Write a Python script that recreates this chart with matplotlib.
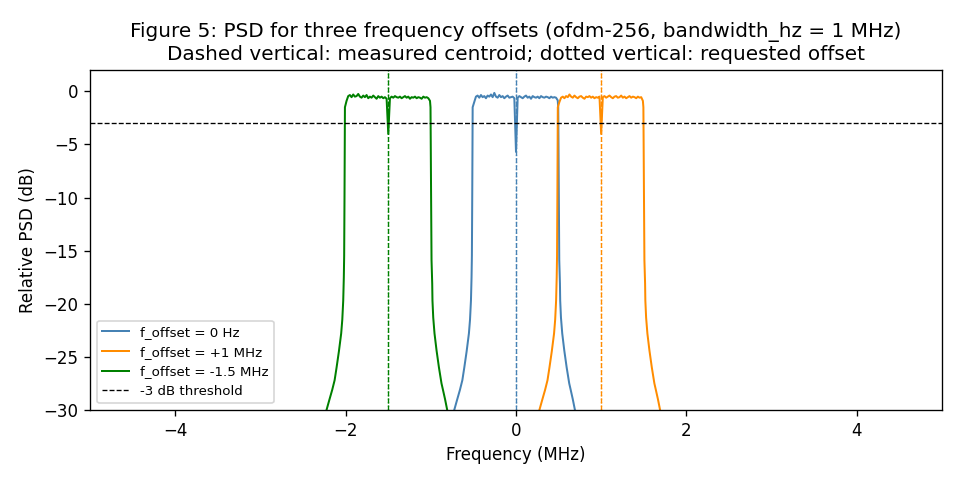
import numpy as np
import matplotlib
matplotlib.use("Agg")
import matplotlib.pyplot as plt

# Centre frequencies (MHz): requested offset and measured centroid
labels = ["f_offset = 0 Hz", "f_offset = +1 MHz", "f_offset = -1.5 MHz"]
colors = ["steelblue", "darkorange", "green"]
requested_mhz = [0.0, 1.0, -1.5]
centroid_mhz = [0.0, 1.0, -1.5]

# Band edge shape relative to centre (MHz, dB)
left_edge_off = [-0.745, -0.725, -0.69, -0.658, -0.63, -0.607, -0.58, -0.553, -0.54,
                 -0.529, -0.522, -0.518, -0.514, -0.511, -0.509]
left_edge_db = [-31.0, -30.0, -29.0, -28.1, -27.2, -26.0, -24.5, -22.8, -21.5,
                -19.7, -17.5, -15.5, -10.0, -5.0, -1.5]
right_edge_off = [0.496, 0.499, 0.503, 0.508, 0.516, 0.519, 0.528, 0.543, 0.567,
                  0.595, 0.625, 0.642, 0.667, 0.692, 0.705]
right_edge_db = [-1.5, -5.0, -10.0, -15.9, -18.1, -19.7, -21.3, -22.8, -24.4,
                 -26.0, -27.5, -28.1, -29.0, -30.0, -30.7]

# Flat-top PSD in the pass band (dB), centre sample is the DC notch
blue_top = [-1.0, -0.5, -0.4, -0.6, -0.35, -0.55, -0.45, -0.65, -0.4, -0.5, -0.3, -0.55, -0.15,
            -0.5, -0.6, -0.35, -0.55, -0.45, -0.65, -0.5, -0.4, -0.6, -0.55, -0.5, -0.65,
            -5.7,
            -0.6, -0.45, -0.55, -0.65, -0.5, -0.4, -0.6, -0.5, -0.7, -0.45, -0.55, -0.6, -0.5,
            -0.65, -0.45, -0.55, -0.6, -0.5, -0.55, -0.65, -0.5, -0.6, -0.55, -0.6, -0.85]
orange_top = [-1.0, -0.6, -0.5, -0.65, -0.45, -0.55, -0.3, -0.5, -0.6, -0.4, -0.55, -0.65, -0.5,
              -0.45, -0.6, -0.7, -0.5, -0.55, -0.45, -0.6, -0.5, -0.65, -0.55, -0.6, -0.5,
              -4.0,
              -0.55, -0.45, -0.6, -0.5, -0.4, -0.55, -0.65, -0.5, -0.45, -0.6, -0.55, -0.4, -0.6,
              -0.5, -0.65, -0.55, -0.45, -0.6, -0.5, -0.55, -0.65, -0.5, -0.6, -0.55, -0.9]
green_top = [-0.9, -0.45, -0.35, -0.55, -0.3, -0.5, -0.45, -0.25, -0.5, -0.6, -0.4, -0.55, -0.35,
             -0.65, -0.5, -0.6, -0.4, -0.55, -0.7, -0.45, -0.6, -0.5, -0.65, -0.55, -0.7,
             -4.0,
             -0.65, -0.5, -0.6, -0.45, -0.55, -0.6, -0.5, -0.65, -0.55, -0.45, -0.6, -0.5, -0.7,
             -0.55, -0.6, -0.5, -0.65, -0.55, -0.6, -0.7, -0.5, -0.6, -0.55, -0.65, -0.9]
tops = [blue_top, orange_top, green_top]

threshold_db = -3

fig, ax = plt.subplots(figsize=(8, 4), dpi=120)
fig.subplots_adjust(left=0.094, right=0.981, bottom=0.146, top=0.854)

for top, fc, col, lab in zip(tops, requested_mhz, colors, labels):
    top_off = np.linspace(-0.49, 0.49, len(top))
    f = fc + np.concatenate([left_edge_off, top_off, right_edge_off])
    p = np.concatenate([left_edge_db, top, right_edge_db])
    ax.plot(f, p, color=col, lw=1.2, label=lab)

for fc, fm, col in zip(requested_mhz, centroid_mhz, colors):
    ax.axvline(fm, color=col, ls="--", lw=0.8)
    ax.axvline(fc, color=col, ls=":", lw=0.8)

ax.axhline(threshold_db, color="black", ls="--", lw=0.8, label="-3 dB threshold")

ax.set_xlim(-5, 5)
ax.set_ylim(-30, 2)
ax.set_xlabel("Frequency (MHz)")
ax.set_ylabel("Relative PSD (dB)")
ax.set_title("Figure 5: PSD for three frequency offsets (ofdm-256, bandwidth_hz = 1 MHz)\n"
             "Dashed vertical: measured centroid; dotted vertical: requested offset")
ax.legend(loc="lower left", fontsize=8)

fig.savefig("out.png", dpi=120)
